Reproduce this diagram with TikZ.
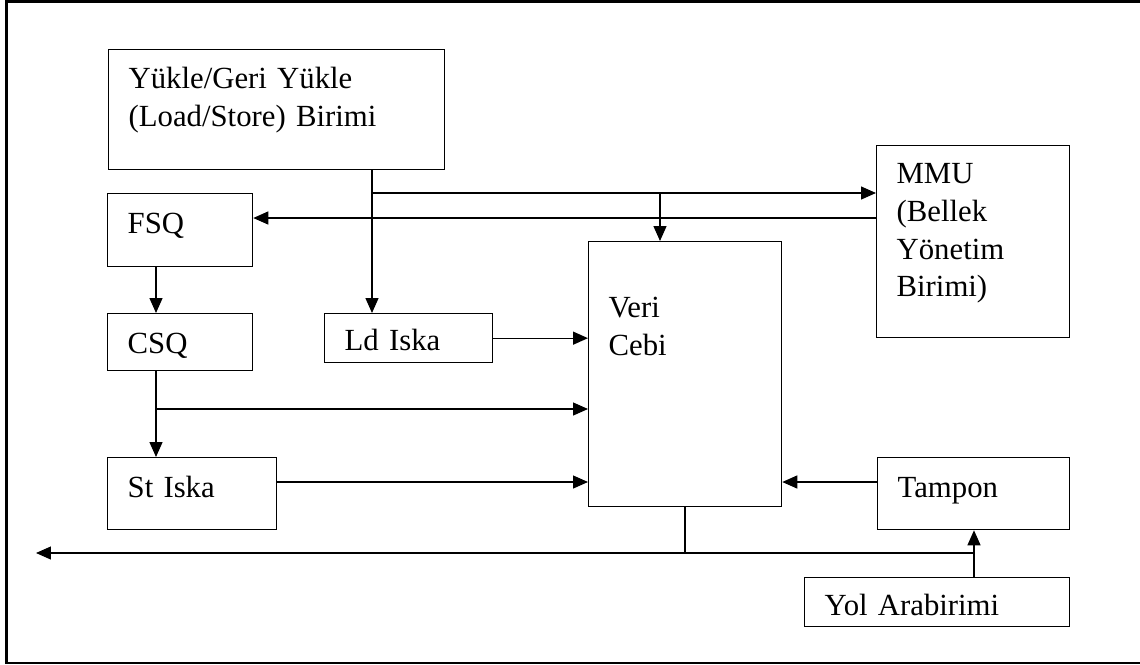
\documentclass[tikz,border=0pt]{standalone}
\usepackage{fontspec}
\setmainfont{Liberation Serif}
\usetikzlibrary{arrows.meta}

\begin{document}
\begin{tikzpicture}[x=0.02cm, y=-0.02cm, line width=0.75pt,
  >={Triangle[length=0.3cm,width=0.26cm]},
  font=\fontsize{17.5pt}{21.5pt}\selectfont,
  blk/.style={draw, anchor=north west, align=left, inner xsep=0.4cm, inner ysep=0pt, text height=0.8cm}]
\useasboundingbox (0,0) rectangle (1140,664);
\draw[line width=1.5pt] (6.3,1.3) rectangle (1145,663);

\node[blk, text width=5.92cm, text height=0.78cm, text depth=1.62cm] (lsu) at (108,49) {Yükle/Geri Yükle\\(Load/Store) Birimi};
\node[blk, text width=2.1cm, text depth=0.66cm] (fsq) at (107,193) {FSQ};
\node[blk, text width=2.1cm, text depth=0.34cm] (csq) at (107,313) {CSQ};
\node[blk, text width=2.58cm, text depth=0.64cm] (st) at (107,457) {St Iska};
\node[blk, text width=2.56cm, text height=0.74cm, text depth=0.24cm] (ld) at (324,313) {Ld Iska};
\node[blk, text width=3.06cm, text height=1.52cm, text depth=3.78cm] (veri) at (588,241) {Veri\\Cebi};
\node[blk, text width=3.06cm, text height=0.76cm, text depth=3.08cm] (mmu) at (876,145) {MMU\\(Bellek\\Yönetim\\Birimi)};
\node[blk, text width=3.04cm, text depth=0.64cm] (tmp) at (877,457) {Tampon};
\node[blk, text width=4.5cm, text height=0.76cm, text depth=0.22cm] (yol) at (804,577) {Yol Arabirimi};

% branch points
\coordinate (j1) at (372,193);
\coordinate (j2) at (660,193);
\coordinate (j3) at (156,409);
\coordinate (j4) at (685,553);
\coordinate (j5) at (974,553);
\coordinate (out) at (36,553);

\draw[->] (lsu.south -| j1) -- (j1 |- ld.north);
\draw[->] (j1) -- (j1 -| mmu.west);
\draw[->] (j2) -- (j2 |- veri.north);
\draw[->] (mmu.west |- 0,218) -- (fsq.east |- 0,218);
\draw[->] (fsq.south -| j3) -- (csq.north -| j3);
\draw[->] (csq.south -| j3) -- (j3 |- st.north);
\draw[->] (j3) -- (j3 -| veri.west);
\draw[->] (ld.east) -- (ld.east -| veri.west);
\draw[->] (st.east |- 0,482) -- (veri.west |- 0,482);
\draw[->] (tmp.west |- 0,482) -- (veri.east |- 0,482);
\draw (veri.south -| j4) -- (j4);
\draw[->] (j5) -- (out);
\draw[->] (yol.north -| j5) -- (tmp.south -| j5);
\end{tikzpicture}
\end{document}
